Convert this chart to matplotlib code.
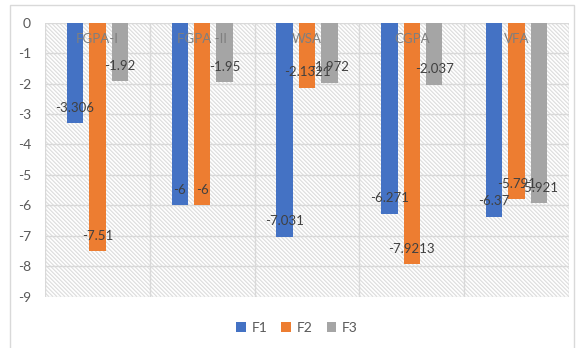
import matplotlib
matplotlib.use("Agg")
import matplotlib.pyplot as plt
import numpy as np
from matplotlib.patches import Rectangle
from matplotlib.collections import LineCollection

plt.rcParams['font.family'] = ['Lato', 'DejaVu Sans']

categories = ["FGPA-I", "FGPA -II", "WSA", "CGPA", "VFA"]
series_names = ["F1", "F2", "F3"]
f1 = [-3.306, -6, -7.031, -6.271, -6.37]
f2 = [-7.51, -6, -2.1321, -7.9213, -5.791]
f3 = [-1.92, -1.95, -1.972, -2.037, -5.921]
label_text = {
    "F1": ["-3.306", "-6", "-7.031", "-6.271", "-6.37"],
    "F2": ["-7.51", "-6", "-2.1321", "-7.9213", "-5.791"],
    "F3": ["-1.92", "-1.95", "-1.972", "-2.037", "-5.921"],
}
colors = ["#4472C4", "#ED7D31", "#A5A5A5"]
yticks = list(range(0, -10, -1))

fig = plt.figure(figsize=(5.76, 3.48), dpi=100)
# outer chart border
fig.patches.append(Rectangle((10 / 576, -0.01), 564 / 576, 1 - 5 / 348 + 0.01,
                             transform=fig.transFigure, fill=False,
                             edgecolor="#d9d9d9", linewidth=1.0))

ax_w_px, ax_h_px = 524, 274
ax = fig.add_axes([45 / 576, 1 - 296.7 / 348, ax_w_px / 576, ax_h_px / 348])
ax.set_xlim(-0.5, len(categories) - 0.5)
ax.set_ylim(-9, 0)

# diagonal hatch pattern filling the plot area
slope = ax_h_px / ax_w_px
starts = np.arange(-slope, 1.0 + 4 / ax_w_px, 4 / ax_w_px)
segs = [[(s, 1.0), (s + slope, 0.0)] for s in starts]
ax.add_collection(LineCollection(segs, colors="#dcdcdc", linewidths=0.8,
                                 transform=ax.transAxes, zorder=0))

# gridlines
for yv in yticks:
    ax.axhline(yv, color="#d9d9d9", linewidth=1.0, zorder=1)
for xv in np.arange(-0.5, len(categories), 1.0):
    ax.axvline(xv, color="#d9d9d9", linewidth=1.0, zorder=1)

x = np.arange(len(categories))
width = 0.157
step = 0.214
for i, (name, vals, col) in enumerate(zip(series_names, [f1, f2, f3], colors)):
    pos = x + (i - 1) * step
    ax.bar(pos, vals, width=width, color=col, zorder=3, label=name)
    for px, v, t in zip(pos, vals, label_text[name]):
        ax.annotate(t, (px, v), xytext=(0, 11), textcoords="offset points",
                    ha="center", va="center", fontsize=9.5, color="#404040",
                    zorder=5)

# category labels drawn inside the plot near the zero line
for xi, c in zip(x, categories):
    ax.text(xi, -0.55, c, ha="center", va="center", fontsize=9.5,
            color="#7f7f7f", zorder=4)

ax.set_xticks([])
ax.set_yticks(yticks)
ax.set_yticklabels([str(v) for v in yticks], fontsize=10, color="#595959")
ax.tick_params(axis="y", length=0, pad=10)
for s in ax.spines.values():
    s.set_visible(False)

fig.legend(loc="center", bbox_to_anchor=(297 / 576, 1 - 328 / 348), ncol=3,
           frameon=False, fontsize=10, handlelength=0.7, handleheight=0.7,
           handletextpad=0.4, columnspacing=1.0, labelcolor="#595959")

fig.savefig("out.png", dpi=100)
